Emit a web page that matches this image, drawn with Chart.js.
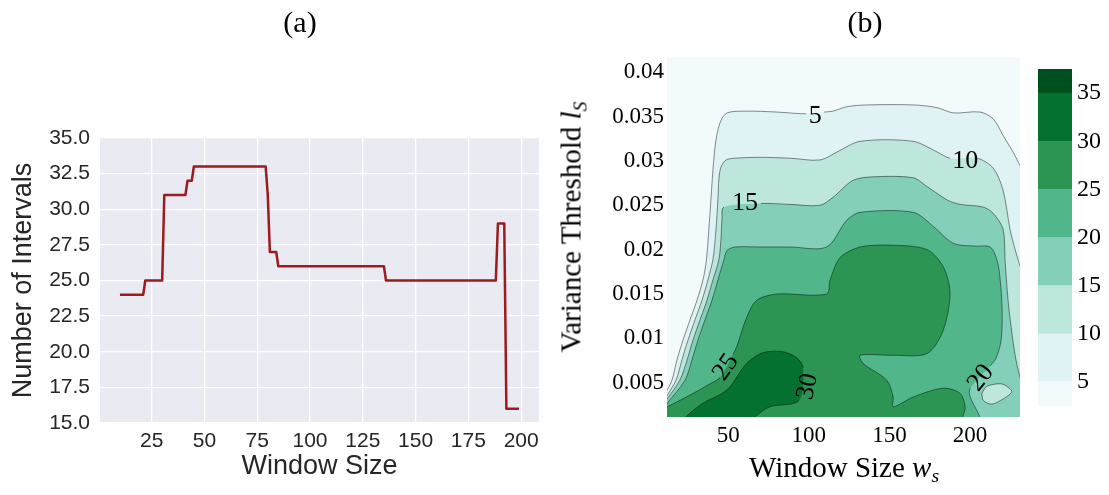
<!DOCTYPE html>
<html>
<head>
<meta charset="utf-8">
<title>Intervals and variance threshold</title>
<script src="https://cdn.jsdelivr.net/npm/chart.js@4.4.1/dist/chart.umd.min.js"></script>
<style>
  body { margin: 0; background: #fff; }
  #page { position: relative; width: 1109px; height: 495px; overflow: hidden; font-family: 'Liberation Serif', serif; }
  canvas { position: absolute; top: 0; }
  .txt { position: absolute; color: #000; white-space: nowrap; transform: translate(-50%, -50%); line-height: 1; }
  .txt sub { font-size: 0.68em; vertical-align: -0.3em; line-height: 0; }
</style>
</head>
<body>
<div id="page">
  <canvas id="lineChart" width="560" height="495" style="left:0"></canvas>
  <canvas id="contourChart" width="480" height="495" style="left:550px"></canvas>
  <canvas id="colorbar" width="79" height="495" style="left:1030px"></canvas>
  <div class="txt" style="left:300px;top:22px;font-size:30px">(a)</div>
  <div class="txt" style="left:865px;top:22px;font-size:30px">(b)</div>
  <div class="txt" style="left:844px;top:467px;font-size:29px">Window Size <i>w</i><sub><i>s</i></sub></div>
  <div class="txt" style="left:571px;top:227px;font-size:29px;transform:translate(-50%,-50%) rotate(-90deg)">Variance Threshold <i>l</i><sub><i>S</i></sub></div>
</div>
<script>
// (a) number of intervals for each window size
const windowSizes    = [10, 21, 22, 30, 31, 41, 42, 44, 45, 79, 80, 81, 84, 85, 135, 136, 188, 189, 192, 193, 199];
const intervalCounts = [24, 24, 25, 25, 31, 31, 32, 32, 33, 33, 31, 27, 27, 26, 26,  25,  25,  29,  29,  16,  16];
const lineXTicks = [25, 50, 75, 100, 125, 150, 175, 200];
const lineYTicks = [15, 17.5, 20, 22.5, 25, 27.5, 30, 32.5, 35];

// (b) contour levels, colours and ticks
const levels = [2.5, 5, 10, 15, 20, 25, 30, 35, 37.5];
const bandColors = ['#f3fafb', '#e0f3f4', '#bde6dd', '#83cfb9', '#51b78a', '#2c9553', '#057130', '#00501f'];
const contourXTicks = [50, 100, 150, 200];
const contourYTicks = [0.005, 0.01, 0.015, 0.02, 0.025, 0.03, 0.035, 0.04];
const colorbarTicks = [5, 10, 15, 20, 25, 30, 35];

// contour boundaries as [window size, threshold]; points past the axes close each region
const contour5 = [[9, 0.0034], [12.1, 0.0042], [15.1, 0.0053], [18.2, 0.0076], [21.9, 0.0098], [26.3, 0.0121],
  [30.6, 0.0143], [34.3, 0.0166], [36.5, 0.0189], [38.7, 0.0242], [41.8, 0.0316], [44.9, 0.0343], [49.2, 0.0354],
  [61.5, 0.0356], [80.1, 0.0355], [98.3, 0.0353], [109.5, 0.0355], [115.0, 0.0356], [123.5, 0.0361], [135.9, 0.0363],
  [164.9, 0.0363], [179.4, 0.0360], [189.7, 0.0354], [206.3, 0.0355], [214.5, 0.0347], [220.7, 0.0328],
  [227.0, 0.0309], [230.9, 0.0295], [234, 0.0284], [236, -0.002], [6, -0.002]];
const contour10 = [[9, 0.0029], [12.1, 0.0036], [17.6, 0.0053], [21.3, 0.0076], [25.0, 0.0098], [29.4, 0.0121],
  [33.7, 0.0143], [37.4, 0.0166], [40.5, 0.0189], [42.4, 0.0223], [43.6, 0.0257], [44.2, 0.0280], [45.5, 0.0293],
  [48.6, 0.0301], [54.2, 0.0303], [69.7, 0.0304], [88.3, 0.0303], [107.0, 0.0301], [117.5, 0.0310], [131.8, 0.0322],
  [164.7, 0.0322], [179.6, 0.0310], [187.6, 0.0303], [204.4, 0.0303], [214.3, 0.0292], [220.5, 0.0267],
  [224.9, 0.0222], [228.0, 0.0200], [230.9, 0.0182], [233, 0.0170], [236, -0.002], [6, -0.002]];
const contour15 = [[9, 0.0025], [12.1, 0.0032], [20.0, 0.0053], [24.5, 0.0076], [28.1, 0.0098], [32.5, 0.0121],
  [36.8, 0.0143], [40.5, 0.0166], [44.2, 0.0189], [45.5, 0.0212], [46.1, 0.0234], [47.4, 0.0248], [70.3, 0.0252],
  [88.3, 0.0251], [107.0, 0.0250], [115.0, 0.0259], [127.4, 0.0278], [139.9, 0.0282], [164.7, 0.0281],
  [173.4, 0.0271], [185.8, 0.0256], [193.9, 0.0251], [208.1, 0.0248], [214.3, 0.0241], [220.5, 0.0223],
  [221.7, 0.0189], [223.6, 0.0143], [226.1, 0.0104], [228.6, 0.0075], [230.9, 0.0057], [233, 0.0043],
  [236, -0.002], [6, -0.002]];
const island15 = [[207.3, 0.0038], [210.4, 0.0046], [218.7, 0.0049], [222.8, 0.0046], [225.9, 0.0040],
  [220.7, 0.0032], [213.5, 0.0026], [208.3, 0.0030], [207.3, 0.0038]];
const contour20 = [[9, 0.0021], [12.1, 0.0027], [23.2, 0.0053], [27.5, 0.0076], [31.2, 0.0098], [35.6, 0.0121],
  [39.9, 0.0143], [43.6, 0.0166], [47.4, 0.0189], [49.2, 0.0199], [54.2, 0.0203], [69.7, 0.0203], [88.3, 0.0203],
  [111.0, 0.0203], [123.5, 0.0233], [131.8, 0.0242], [164.9, 0.0242], [177.3, 0.0226], [189.7, 0.0207],
  [203.2, 0.0204], [212.5, 0.0203], [216.8, 0.0188], [218.7, 0.0166], [219.9, 0.0132], [219.3, 0.0098],
  [216.2, 0.0078], [212.5, 0.0069], [200.1, 0.0044], [200.1, 0.0034], [204.2, 0.0019], [206.0, 0.0012],
  [207, 0.0005], [6, -0.002]];
const contour25 = [[9, 0.0021], [12.1, 0.0023], [28.1, 0.0038], [38.7, 0.0049], [44.9, 0.0056], [53.0, 0.0082],
  [55.3, 0.0091], [61.5, 0.0124], [67.7, 0.0143], [80.1, 0.0150], [111.0, 0.0150], [113.2, 0.0166], [119.4, 0.0191],
  [131.8, 0.0203], [152.3, 0.0205], [173.4, 0.0200], [183.3, 0.0181], [187.6, 0.0151], [183.3, 0.0109],
  [173.4, 0.0083], [152.3, 0.0081], [131.8, 0.0081], [133.6, 0.0072], [148.3, 0.0053], [152.3, 0.0034],
  [152.3, 0.0023], [164.7, 0.0034], [183.3, 0.0044], [193.9, 0.0038], [197.0, 0.0023], [195.6, 0.0012],
  [194.5, 0.0005], [6, -0.002]];
const contour30 = [[21.5, 0.0005], [23.9, 0.0012], [34.3, 0.0027], [49.2, 0.0042], [61.5, 0.0072], [71.6, 0.0084],
  [84.0, 0.0085], [92.7, 0.0078], [96.4, 0.0067], [93.9, 0.0030], [75.9, 0.0023], [66.8, 0.0012], [64, 0.0005]];

// inline contour labels: level, position, rotation in degrees
const contourLabels = [
  { level: 5, x: 103.9, y: 0.0352, angle: 0 },
  { level: 10, x: 197.0, y: 0.0301, angle: 0 },
  { level: 15, x: 60.4, y: 0.0253, angle: 0 },
  { level: 20, x: 206.3, y: 0.0056, angle: -52 },
  { level: 25, x: 48.0, y: 0.0068, angle: -55 },
  { level: 30, x: 98.7, y: 0.0046, angle: -78 }
];

const X_MIN = 12, X_MAX = 231, Y_MIN = 0.00115, Y_MAX = 0.0417;
const LINE = 'rgba(0, 0, 0, 0.45)';
const NONE = 'rgba(0, 0, 0, 0)';

// fills a chart's plot area before anything else is drawn
const areaBackground = {
  id: 'areaBackground',
  beforeDraw(chart, args, opts) {
    const { ctx, chartArea: a } = chart;
    ctx.save();
    ctx.fillStyle = opts.color;
    ctx.fillRect(a.left, a.top, a.width, a.height);
    ctx.restore();
  }
};

// writes the level numbers on top of the contour lines
const contourLabelPlugin = {
  id: 'contourLabels',
  afterDatasetsDraw(chart) {
    const { ctx, scales: { x, y } } = chart;
    ctx.save();
    ctx.font = '26px "Liberation Serif"';
    ctx.fillStyle = '#000';
    ctx.textAlign = 'center';
    ctx.textBaseline = 'middle';
    contourLabels.forEach(l => {
      ctx.save();
      ctx.translate(x.getPixelForValue(l.x), y.getPixelForValue(l.y));
      ctx.rotate(l.angle * Math.PI / 180);
      ctx.fillText(String(l.level), 0, 1);
      ctx.restore();
    });
    ctx.restore();
  }
};

function outside(p) {
  return p[0] < X_MIN || p[0] > X_MAX || p[1] < Y_MIN || p[1] > Y_MAX;
}

function underLabel(level, a, b) {
  const mx = (a[0] + b[0]) / 2, my = (a[1] + b[1]) / 2;
  return contourLabels.some(l => l.level === level &&
    Math.hypot((mx - l.x) / 8, (my - l.y) / 0.0012) < 1);
}

function fixedTicks(values) {
  return axis => { axis.ticks = values.map(v => ({ value: v })); };
}

// ---- (a) line chart ----
new Chart(document.getElementById('lineChart'), {
  type: 'line',
  data: {
    datasets: [{
      data: windowSizes.map((x, i) => ({ x, y: intervalCounts[i] })),
      borderColor: '#9b1b1e',
      borderWidth: 2.5,
      borderJoinStyle: 'round',
      pointRadius: 0,
      tension: 0,
      fill: false
    }]
  },
  options: {
    responsive: false,
    animation: false,
    layout: { padding: { top: 138, right: 21, left: 0, bottom: 0 } },
    plugins: {
      legend: { display: false },
      tooltip: { enabled: false },
      areaBackground: { color: '#eaeaf2' }
    },
    scales: {
      x: {
        type: 'linear', min: 0.55, max: 208.45,
        afterFit: s => { s.height = 72; },
        afterBuildTicks: fixedTicks(lineXTicks),
        grid: { color: '#ffffff', lineWidth: 1.3, drawTicks: false },
        border: { display: false },
        ticks: { padding: 6, autoSkip: false, maxRotation: 0, color: '#262626',
                 font: { family: 'Liberation Sans', size: 21 } },
        title: { display: true, text: 'Window Size', color: '#262626',
                 font: { family: 'Liberation Sans', size: 27 }, padding: { top: 0, bottom: 12 } }
      },
      y: {
        min: 15, max: 35,
        afterFit: s => { s.width = 100; },
        afterBuildTicks: fixedTicks(lineYTicks),
        grid: { color: '#ffffff', lineWidth: 1.3, drawTicks: false },
        border: { display: false },
        ticks: { padding: 10, autoSkip: false, color: '#262626', callback: v => v.toFixed(1),
                 font: { family: 'Liberation Sans', size: 21 } },
        title: { display: true, text: 'Number of Intervals', color: '#262626',
                 font: { family: 'Liberation Sans', size: 27 }, padding: { top: 7, bottom: 0 } }
      }
    }
  },
  plugins: [areaBackground]
});

// ---- (b) filled contours ----
const regions = [
  { level: 5, band: 1, path: contour5 },
  { level: 10, band: 2, path: contour10 },
  { level: 15, band: 3, path: contour15 },
  { level: 15, band: 2, path: island15 },
  { level: 20, band: 4, path: contour20 },
  { level: 25, band: 5, path: contour25 },
  { level: 30, band: 6, path: contour30 }
];

const fillSets = regions.map(r => ({
  data: r.path.map(([x, y]) => ({ x, y })),
  fill: 'shape',
  backgroundColor: bandColors[r.band],
  borderWidth: 0,
  pointRadius: 0,
  tension: 0.3,
  capBezierPoints: false,
  clip: 0
}));

const lineSets = regions.map(r => ({
  data: r.path.map(([x, y]) => ({ x, y })),
  fill: false,
  borderColor: LINE,
  borderWidth: 1,
  pointRadius: 0,
  tension: 0.3,
  capBezierPoints: false,
  clip: 0,
  segment: {
    borderColor: c => {
      const a = r.path[c.p0DataIndex], b = r.path[c.p1DataIndex];
      return (outside(a) && outside(b)) || underLabel(r.level, a, b) ? NONE : LINE;
    }
  }
}));

// first in the list is painted first
const contourSets = fillSets.concat(lineSets).map((d, i, all) => ({ ...d, order: all.length - i }));

new Chart(document.getElementById('contourChart'), {
  type: 'line',
  data: { datasets: contourSets },
  options: {
    responsive: false,
    animation: false,
    layout: { padding: { top: 57, right: 10, left: 0, bottom: 0 } },
    plugins: {
      legend: { display: false },
      tooltip: { enabled: false },
      areaBackground: { color: bandColors[0] }
    },
    scales: {
      x: {
        type: 'linear', min: X_MIN, max: X_MAX,
        afterFit: s => { s.height = 78; },
        afterBuildTicks: fixedTicks(contourXTicks),
        grid: { display: false, drawTicks: false },
        border: { display: false },
        ticks: { padding: 5, autoSkip: false, maxRotation: 0, color: '#000',
                 font: { family: 'Liberation Serif', size: 23 } }
      },
      y: {
        type: 'linear', min: Y_MIN, max: Y_MAX,
        afterFit: s => { s.width = 117; },
        afterBuildTicks: fixedTicks(contourYTicks),
        grid: { display: false, drawTicks: false },
        border: { display: false },
        ticks: { padding: 3, autoSkip: false, color: '#000', callback: v => String(v),
                 font: { family: 'Liberation Serif', size: 23 } }
      }
    }
  },
  plugins: [areaBackground, contourLabelPlugin]
});

// ---- colour bar ----
new Chart(document.getElementById('colorbar'), {
  type: 'bar',
  data: {
    labels: [''],
    datasets: bandColors.map((c, i) => ({
      data: [[levels[i], levels[i + 1]]],
      backgroundColor: c,
      borderWidth: 0,
      barPercentage: 1,
      categoryPercentage: 1,
      grouped: false
    }))
  },
  options: {
    responsive: false,
    animation: false,
    layout: { padding: { top: 69, bottom: 89, left: 8, right: 0 } },
    plugins: { legend: { display: false }, tooltip: { enabled: false } },
    scales: {
      x: { display: false },
      y: {
        position: 'right', min: levels[0], max: levels[levels.length - 1], z: 1,
        afterFit: s => { s.width = 37; },
        afterBuildTicks: fixedTicks(colorbarTicks),
        grid: { drawTicks: false, lineWidth: 1, color: c => c.tick && c.tick.value <= 15 ? LINE : NONE },
        border: { display: false },
        ticks: { padding: 5, autoSkip: false, color: '#000',
                 font: { family: 'Liberation Serif', size: 24 } }
      }
    }
  }
});
</script>
</body>
</html>
